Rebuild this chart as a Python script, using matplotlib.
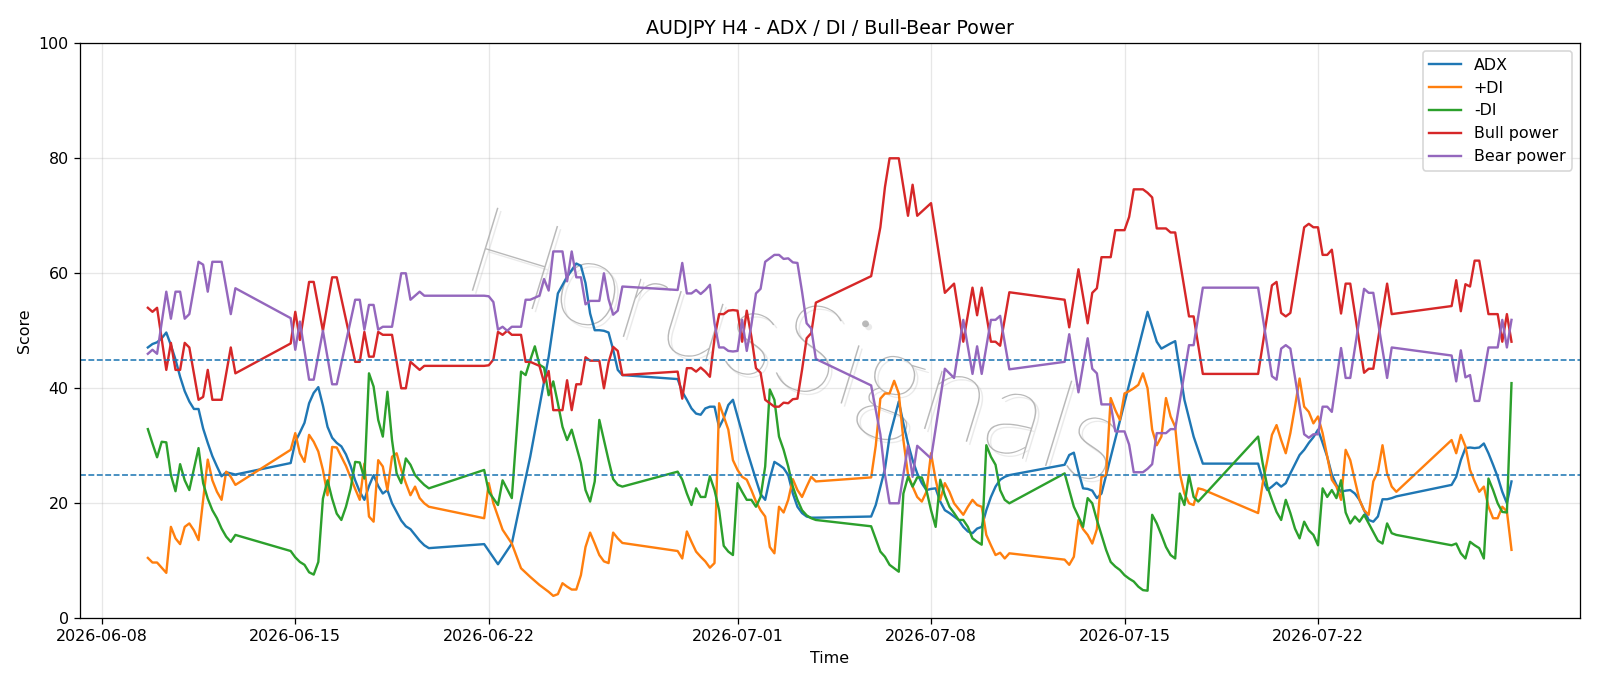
import numpy as np
import matplotlib
matplotlib.use("Agg")
import matplotlib.pyplot as plt
import matplotlib.patheffects as pe
import pandas as pd

# H4 bars, forex week (Sun 20:00 .. Fri 20:00)
t = pd.date_range("2026-06-09 16:00", "2026-07-29 00:00", freq="4h")
t = t[(t.dayofweek < 5) | ((t.dayofweek == 6) & (t.hour == 20))]

# ADX
adx_idx = [0, 1, 2, 3, 4, 5, 6, 7, 8, 9, 10, 11, 12, 13, 14, 15, 16, 17, 18, 19,
           20, 21, 22, 23, 24, 25, 26, 27, 28, 29, 30, 31, 32, 33, 34, 35, 36, 37, 38, 39,
           40, 41, 42, 43, 44, 45, 46, 47, 48, 49, 50,
           51, 54, 57, 59, 61, 63, 65, 67, 69, 71, 72, 73, 74, 75, 76, 77, 78, 79, 80, 81,
           82, 83, 84, 85, 86, 87, 88, 89, 90, 91, 92, 93, 94, 95, 96, 97, 98, 99, 100,
           101, 102, 103, 104, 105, 106, 107, 108, 109, 110, 111, 112,
           113, 114, 116, 117, 119, 120, 121, 122, 123, 124, 125, 126, 127, 128, 129, 130,
           131, 132, 133, 134, 135, 136, 137, 138, 139, 140, 141, 142, 143,
           144, 145, 146, 147, 148, 149, 150, 151, 152, 162, 164, 165, 167, 168, 170, 172, 174,
           175, 176, 177, 178, 179, 180, 181, 182, 184, 185, 186, 187, 188, 189, 190,
           191, 192, 193, 194, 195, 196, 197, 198, 199, 200, 201, 202, 203, 204, 205,
           206, 207, 208, 209, 210, 211, 212, 213, 214, 215, 216, 217, 218, 219]
adx = [47.1, 47.7, 48.0, 48.7, 49.7, 47.5, 45.0, 42.0, 39.5, 37.7, 36.4, 36.4, 33.0, 30.5, 28.2, 26.4, 24.7, 25.4, 25.2, 25.0,
       27.0, 30.7, 32.3, 34.0, 37.4, 39.2, 40.2, 37.0, 33.3, 31.4, 30.5, 29.9, 28.5, 26.5, 24.0, 22.0, 20.6, 23.0, 24.9, 23.0,
       21.7, 22.3, 20.0, 18.5, 17.0, 16.0, 15.5, 14.5, 13.5, 12.7, 12.2,
       12.9, 9.4, 13.0, 20.6, 28.1, 36.8, 45.5, 56.5, 59.4, 61.7, 61.3, 58.3, 53.0, 50.1, 50.1, 50.0, 49.7, 46.7, 43.2, 42.3,
       41.6, 39.4, 38.0, 36.5, 35.6, 35.4, 36.5, 36.8, 36.8, 33.2, 34.8, 37.1, 38.0, 35.1, 32.2, 29.3, 26.7, 24.1, 21.6,
       20.6, 24.3, 27.2, 26.7, 26.1, 24.9, 21.7, 19.4, 18.3, 17.7, 17.5, 17.5,
       17.7, 19.7, 26.0, 31.6, 37.7, 33.9, 30.4, 27.5, 25.2, 23.5, 22.3, 22.5, 22.6, 20.3, 18.8, 18.3,
       17.7, 17.1, 15.9, 15.1, 14.8, 15.6, 15.9, 18.8, 21.1, 22.9, 24.1, 24.6, 24.9,
       26.7, 28.4, 28.8, 25.5, 22.6, 22.5, 22.2, 20.9, 21.7, 53.3, 48.1, 46.9, 47.8, 48.2, 38.0, 31.6, 26.9,
       26.9, 24.1, 22.3, 22.9, 23.6, 22.9, 23.5, 25.2, 28.4, 29.3, 30.5, 31.5, 32.8, 30.5, 28.1,
       25.0, 23.2, 22.0, 22.2, 22.3, 21.7, 20.6, 18.8, 17.1, 16.8, 17.7, 20.7, 20.7, 20.9, 21.2,
       23.2, 24.6, 27.5, 29.6, 29.7, 29.6, 29.7, 30.4, 28.7, 26.7, 24.6, 22.0, 20.0, 23.8]

# +DI
pdi_idx = [0, 1, 2, 3, 4, 5, 6, 7, 8, 9, 10, 11, 13, 14, 15, 16, 17, 18, 19,
           20, 21, 22, 23, 24, 25, 26, 27, 28, 29, 30, 31, 32, 33, 34, 35, 36, 37, 38, 39,
           40, 41, 42, 43, 44, 45, 46, 47, 48, 49, 50,
           51, 52, 53, 55, 57, 59, 61, 63, 65, 66, 67, 68, 69, 70, 71, 72, 73, 74, 75, 76, 77, 78, 79, 80, 81,
           82, 83, 84, 85, 86, 87, 88, 89, 90, 91, 92, 93, 94, 95, 96, 97, 98, 99, 100,
           101, 102, 103, 104, 105, 106, 107, 108, 109, 110, 111, 112,
           113, 114, 115, 116, 117, 118, 119, 120, 121, 122, 123, 124, 125, 126, 127, 128, 129, 130,
           131, 132, 133, 134, 135, 136, 137, 138, 139, 140, 141, 142, 143,
           144, 145, 146, 147, 148, 149, 150, 151, 152, 153, 154, 155, 156, 157, 158, 159, 160,
           161, 162, 163, 164, 165, 166, 167, 168, 169, 170, 171, 172, 173, 174,
           175, 176, 177, 178, 179, 180, 181, 182, 183, 184, 185, 186, 187, 188, 189, 190,
           191, 192, 193, 194, 195, 196, 197, 198, 199, 200, 201, 202, 203, 204, 205,
           206, 207, 208, 209, 210, 211, 212, 213, 214, 215, 216, 217, 218, 219]
pdi = [10.5, 9.7, 9.7, 8.8, 7.9, 15.9, 13.9, 12.9, 15.9, 16.5, 15.3, 13.6, 27.6, 24.0, 22.0, 20.6, 25.5, 24.6, 23.2,
       29.3, 32.2, 28.7, 27.2, 31.9, 30.7, 29.0, 25.8, 21.4, 29.8, 29.7, 28.1, 26.5, 24.5, 22.5, 20.6, 26.9, 17.7, 16.8, 27.5,
       26.4, 22.3, 28.1, 28.7, 25.8, 23.5, 21.4, 22.9, 20.9, 20.0, 19.4,
       17.4, 23.5, 20.0, 15.4, 13.0, 8.7, 7.2, 5.8, 4.6, 3.9, 4.2, 6.1, 5.5, 5.0, 5.0, 7.5, 12.4, 14.9, 13.0, 11.0, 9.9, 9.6, 14.9, 13.9, 13.1,
       11.7, 10.4, 15.1, 13.3, 11.6, 10.7, 9.9, 8.8, 9.6, 37.4, 35.1, 32.8, 27.5, 25.8, 24.6, 24.1, 22.3, 20.3, 18.8,
       17.7, 12.4, 11.3, 19.4, 18.4, 20.6, 24.2, 22.3, 21.1, 22.9, 24.6, 23.8,
       24.5, 30.0, 38.2, 39.1, 39.1, 41.3, 39.1, 31.0, 25.0, 22.9, 21.1, 20.3, 22.0, 28.7, 24.1, 20.6, 23.5, 22.0,
       20.0, 19.0, 18.0, 19.4, 20.6, 19.7, 19.4, 14.5, 12.7, 11.0, 11.4, 10.4, 11.3,
       10.2, 9.3, 10.7, 17.1, 15.5, 14.5, 13.0, 15.5, 24.6, 24.9, 38.3, 36.2, 34.5, 39.1, 39.5, 40.0, 40.6,
       42.6, 40.0, 32.8, 30.1, 31.6, 38.3, 35.1, 33.3, 25.2, 21.7, 20.0, 19.7, 22.6, 22.4,
       18.3, 23.5, 27.5, 31.9, 33.6, 31.0, 28.7, 32.2, 36.8, 41.7, 36.8, 35.9, 33.9, 35.1, 32.2, 28.1,
       24.1, 22.9, 20.6, 29.3, 27.5, 24.0, 20.6, 18.8, 18.0, 23.8, 25.5, 30.1, 25.2, 22.9, 22.0,
       31.0, 28.7, 31.9, 29.9, 25.8, 23.8, 22.0, 22.9, 19.4, 17.4, 17.4, 19.4, 18.6, 11.9]

# -DI
mdi_idx = [0, 1, 2, 3, 4, 5, 6, 7, 8, 9, 10, 11, 12, 13, 14, 15, 16, 17, 18, 19,
           20, 21, 22, 23, 24, 25, 26, 27, 28, 29, 30, 31, 32, 33, 34, 35, 36, 37, 38, 39,
           40, 41, 42, 43, 44, 45, 46, 47, 48, 49, 50,
           51, 52, 54, 55, 57, 59, 60, 61, 62, 63, 64, 65, 66, 67, 68, 69, 70, 71, 72, 73, 74, 75, 76, 77, 78, 79, 80, 81,
           82, 83, 84, 85, 86, 87, 88, 89, 90, 91, 92, 93, 94, 95, 96, 97, 98, 99, 100,
           101, 102, 103, 104, 105, 106, 107, 108, 109, 110, 111, 112,
           113, 115, 116, 117, 118, 119, 120, 121, 122, 123, 124, 125, 126, 127, 128, 129, 130,
           131, 132, 133, 134, 135, 136, 137, 138, 139, 140, 141, 142, 143,
           144, 145, 146, 147, 148, 149, 150, 151, 152, 153, 154, 155, 156, 157, 158, 159, 160,
           161, 162, 163, 164, 165, 166, 167, 168, 169, 170, 171, 172, 173,
           175, 176, 177, 178, 179, 180, 181, 182, 183, 184, 185, 186, 187, 188, 189, 190,
           191, 192, 193, 194, 195, 196, 197, 198, 199, 200, 201, 202, 203, 204, 205,
           206, 207, 208, 209, 210, 211, 212, 213, 214, 215, 216, 217, 218, 219]
mdi = [32.9, 30.4, 28.0, 30.7, 30.6, 24.9, 22.1, 26.8, 24.0, 22.3, 26.0, 29.6, 23.5, 20.8, 18.8, 17.4, 15.6, 14.2, 13.3, 14.5,
       11.7, 10.6, 9.8, 9.3, 8.0, 7.6, 9.8, 20.8, 24.0, 20.8, 18.2, 17.1, 19.4, 22.5, 27.2, 27.1, 24.3, 42.6, 40.3, 34.5,
       31.6, 39.4, 31.0, 25.2, 23.5, 27.8, 26.7, 24.9, 24.0, 23.2, 22.6,
       25.8, 22.0, 19.7, 24.0, 20.9, 42.9, 42.3, 44.9, 47.3, 44.1, 43.6, 38.8, 41.2, 37.4, 33.3, 31.0, 32.8, 29.9, 27.0, 22.3, 20.3, 23.8, 34.5, 31.0, 27.5, 24.2, 23.2, 22.9,
       25.5, 24.1, 21.7, 19.7, 22.6, 21.1, 21.1, 24.7, 22.3, 18.8, 12.6, 11.6, 11.0, 23.5, 22.0, 20.6, 20.6, 19.4, 21.1,
       26.4, 39.8, 38.0, 31.6, 29.3, 26.4, 22.9, 20.6, 18.8, 17.9, 17.4, 17.1,
       16.0, 11.6, 10.7, 9.3, 8.7, 8.1, 21.7, 24.6, 22.9, 24.5, 24.5, 22.3, 18.8, 15.9, 24.1, 21.4, 19.4,
       18.3, 17.1, 17.1, 15.9, 13.9, 13.3, 12.8, 30.1, 28.1, 26.7, 22.3, 20.6, 20.0,
       25.2, 22.3, 19.4, 17.7, 15.9, 20.9, 20.0, 17.1, 14.5, 11.9, 9.8, 9.0, 8.4, 7.5, 6.9, 6.4, 5.5,
       4.9, 4.8, 18.0, 16.5, 14.5, 12.4, 11.0, 10.4, 21.7, 19.7, 24.9, 21.1, 20.3,
       31.6, 26.9, 22.9, 20.6, 18.5, 17.1, 20.6, 18.3, 15.6, 13.9, 16.8, 15.3, 14.5, 12.7, 22.6, 21.1,
       22.3, 20.9, 24.0, 18.4, 16.5, 17.7, 16.8, 18.0, 16.5, 15.0, 13.5, 13.0, 16.5, 14.8, 14.5,
       12.7, 13.0, 11.3, 10.4, 13.3, 12.7, 12.2, 10.4, 24.3, 22.3, 20.0, 18.5, 18.4, 40.9]

# Bull / Bear power (same bars)
power_idx = [0, 1, 2, 4, 5, 6, 7, 8, 9, 11, 12, 13, 14, 16, 18, 19,
             20, 21, 22, 24, 25, 27, 29, 30, 34, 35, 36, 37, 38, 39, 40, 42, 44, 45, 46, 48, 49, 50,
             51, 52, 53, 54, 55, 56, 57, 59, 60, 61, 63, 64, 65, 66, 68, 69, 70, 71, 72, 73, 74, 76, 77, 78, 79, 80, 81,
             82, 83, 84, 85, 86, 87, 88, 89, 90, 91, 92, 93, 94, 95, 96, 97, 98, 99, 100,
             101, 102, 103, 104, 105, 106, 107, 108, 109, 110, 111, 112,
             113, 115, 116, 117, 119, 121, 122, 123, 126, 129, 131, 133, 135, 136, 137, 139, 140, 141, 143,
             144, 145, 147, 149, 150, 151, 152, 154, 155, 157, 158, 159, 161, 162, 163, 164, 166, 167, 168, 171, 172, 174,
             175, 177, 178, 179, 180, 181, 182, 185, 186, 187, 188, 189, 190, 191, 193, 194, 195, 198, 199, 200, 203, 204,
             206, 207, 208, 209, 210, 211, 212, 214, 216, 217, 218, 219]
bull = [54.0, 53.3, 54.0, 43.2, 47.9, 43.2, 43.2, 47.9, 47.1, 38.0, 38.5, 43.2, 38.0, 38.0, 47.1, 42.6,
        47.8, 53.3, 48.4, 58.5, 58.5, 50.0, 59.3, 59.3, 44.6, 44.6, 49.8, 45.5, 45.5, 49.8, 49.3, 49.3, 40.0, 40.0, 44.6, 43.2, 43.9, 43.9,
        43.9, 44.0, 45.0, 49.8, 49.3, 50.0, 49.3, 49.3, 44.6, 44.6, 43.9, 41.0, 43.0, 36.2, 36.2, 41.4, 36.2, 40.7, 40.7, 45.4, 44.8, 44.8, 40.0, 44.5, 47.2, 46.5, 42.3,
        42.9, 38.2, 43.5, 43.5, 42.9, 43.6, 42.9, 42.0, 48.7, 52.9, 52.9, 53.5, 53.6, 53.5, 48.1, 53.5, 49.0, 43.5, 42.7,
        38.0, 37.4, 36.8, 36.8, 37.5, 37.4, 38.1, 38.2, 43.2, 48.7, 49.6, 54.9,
        59.5, 68.0, 75.0, 80.0, 80.0, 70.0, 75.4, 70.0, 72.2, 56.6, 58.2, 48.1, 57.5, 52.7, 57.5, 48.1, 48.1, 47.4, 56.7,
        55.4, 50.6, 60.7, 51.3, 56.6, 57.4, 62.8, 62.8, 67.5, 67.5, 69.8, 74.6, 74.6, 74.0, 73.2, 67.8, 67.8, 67.1, 67.1, 52.5, 52.5, 42.5,
        42.5, 52.7, 57.9, 58.5, 53.1, 52.5, 53.1, 68.0, 68.6, 68.0, 68.0, 63.2, 63.2, 64.1, 53.0, 58.2, 58.2, 42.7, 43.4, 43.4, 58.2, 52.9,
        54.3, 58.8, 53.4, 58.1, 57.7, 62.2, 62.2, 52.9, 52.9, 48.1, 52.9, 48.1]
bear = [46.0, 46.7, 46.0, 56.8, 52.1, 56.8, 56.8, 52.1, 52.9, 62.0, 61.5, 56.8, 62.0, 62.0, 52.9, 57.4,
        52.2, 46.7, 51.6, 41.5, 41.5, 50.0, 40.7, 40.7, 55.4, 55.4, 50.2, 54.5, 54.5, 50.2, 50.7, 50.7, 60.0, 60.0, 55.4, 56.8, 56.1, 56.1,
        56.1, 56.0, 55.0, 50.2, 50.7, 50.0, 50.7, 50.7, 55.4, 55.4, 56.1, 59.0, 57.0, 63.8, 63.8, 58.6, 63.8, 59.3, 59.3, 54.6, 55.2, 55.2, 60.0, 55.5, 52.8, 53.5, 57.7,
        57.1, 61.8, 56.5, 56.5, 57.1, 56.4, 57.1, 58.0, 51.3, 47.1, 47.1, 46.5, 46.4, 46.5, 51.9, 46.5, 51.0, 56.5, 57.3,
        62.0, 62.6, 63.2, 63.2, 62.5, 62.6, 61.9, 61.8, 56.8, 51.3, 50.4, 45.1,
        40.5, 32.0, 25.0, 20.0, 20.0, 30.0, 24.6, 30.0, 27.8, 43.4, 41.8, 51.9, 42.5, 47.3, 42.5, 51.9, 51.9, 52.6, 43.3,
        44.6, 49.4, 39.3, 48.7, 43.4, 42.6, 37.2, 37.2, 32.5, 32.5, 30.2, 25.4, 25.4, 26.0, 26.8, 32.2, 32.2, 32.9, 32.9, 47.5, 47.5, 57.5,
        57.5, 47.3, 42.1, 41.5, 46.9, 47.5, 46.9, 32.0, 31.4, 32.0, 32.0, 36.8, 36.8, 35.9, 47.0, 41.8, 41.8, 57.3, 56.6, 56.6, 41.8, 47.1,
        45.7, 41.2, 46.6, 41.9, 42.3, 37.8, 37.8, 47.1, 47.1, 51.9, 47.1, 51.9]

levels = [45, 25]

fig, ax = plt.subplots(figsize=(14, 686 / (1600 / 14)), dpi=1600 / 14)
fig.subplots_adjust(left=0.0498, right=0.9873, bottom=0.0987, top=0.9369)

# faint watermark
ax.text(0.475, 0.46, "HorusSignals", transform=ax.transAxes, fontsize=78,
        family="Lato", fontweight=100, rotation=-17, ha="center", va="center",
        color="#a8a8a8", alpha=0.8, zorder=1,
        path_effects=[pe.withSimplePatchShadow(offset=(2, -2), shadow_rgbFace="#dddddd", alpha=0.6)])

ax.plot(t[adx_idx], adx, color="C0", label="ADX")
ax.plot(t[pdi_idx], pdi, color="C1", label="+DI")
ax.plot(t[mdi_idx], mdi, color="C2", label="-DI")
ax.plot(t[power_idx], bull, color="C3", label="Bull power")
ax.plot(t[power_idx], bear, color="C4", label="Bear power")
for lv in levels:
    ax.axhline(lv, color="C0", linestyle="--", linewidth=1)

ax.set_ylim(0, 100)
ax.set_title("AUDJPY H4 - ADX / DI / Bull-Bear Power")
ax.set_xlabel("Time")
ax.set_ylabel("Score")
ax.grid(True, alpha=0.3)
ax.legend(loc="upper right")

fig.savefig("out.png")
